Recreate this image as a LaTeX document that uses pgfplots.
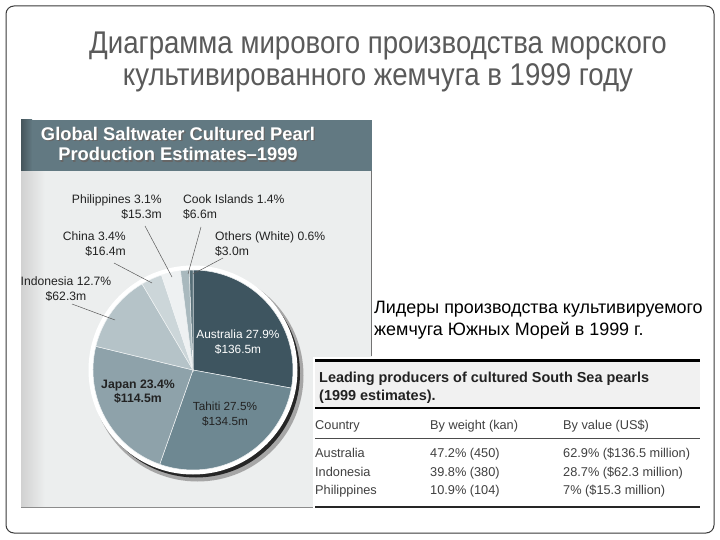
\documentclass[border=0pt]{standalone}
\usepackage{pgfplots}
\pgfplotsset{compat=1.18}
\usepackage{fontspec}
\setmainfont{Liberation Sans}
\newfontfamily\titlefont[FakeStretch=0.88]{Liberation Sans}

\definecolor{frame}{HTML}{3A3A3A}
\definecolor{titlegray}{HTML}{5A5A5A}
\definecolor{band}{HTML}{627982}
\definecolor{piebg}{HTML}{ECEEEE}
\definecolor{cAus}{HTML}{3E5560}
\definecolor{cTah}{HTML}{6E8892}
\definecolor{cJap}{HTML}{8EA2AA}
\definecolor{cIndo}{HTML}{B5C3C8}
\definecolor{cChina}{HTML}{CCD6D9}
\definecolor{cPhil}{HTML}{EEF1F2}
\definecolor{cCook}{HTML}{A9B9BE}
\definecolor{cOth}{HTML}{587079}
\definecolor{labtxt}{HTML}{222222}
\definecolor{tabtxt}{HTML}{404040}
\definecolor{tabband}{HTML}{F1F1F1}

% shares of the pie (percent)
\def\pAus{27.9}
\def\pTah{27.5}
\def\pJap{23.4}
\def\pIndo{12.7}
\def\pChina{3.4}
\def\pPhil{3.1}
\def\pCook{1.4}
\def\pOth{0.6}
\pgfmathsetmacro\aA{90}
\pgfmathsetmacro\aB{\aA-3.6*\pAus}
\pgfmathsetmacro\aC{\aB-3.6*\pTah}
\pgfmathsetmacro\aD{\aC-3.6*\pJap}
\pgfmathsetmacro\aE{\aD-3.6*\pIndo}
\pgfmathsetmacro\aF{\aE-3.6*\pChina}
\pgfmathsetmacro\aG{\aF-3.6*\pPhil}
\pgfmathsetmacro\aH{\aG-3.6*\pCook}
\pgfmathsetmacro\aI{\aH-3.6*\pOth}

\newcommand\sector[3]{%
  \fill[#3, draw=white!80!cIndo, line width=0.5bp] (axis cs:193,370) -- ++(#1:100bp)
    arc[start angle=#1, end angle=#2, radius=100bp] -- cycle;}

\begin{document}
\begin{tikzpicture}
\begin{axis}[scale only axis, width=720bp, height=540bp,
  xmin=0, xmax=720, ymin=0, ymax=540, y dir=reverse,
  axis lines=none, ticks=none, clip=false]
\addplot[draw=none] coordinates {(0,0) (720,540)};
% slide background and frame
\fill[white] (axis cs:0,0) rectangle (axis cs:720,540);
\draw[frame, line width=1bp, rounded corners=8bp] (axis cs:6,6) rectangle (axis cs:714,533);
% slide title
\node[titlegray, font=\titlefont\fontsize{31.5}{33}\selectfont, align=center] at (axis cs:378,62)
  {Диаграмма мирового производства морского\\культивированного жемчуга в 1999 году};

% ---------- pie picture ----------
\fill[piebg] (axis cs:21,120) rectangle (axis cs:372,507);
\shade[left color=black!18, right color=piebg] (axis cs:21,171) rectangle (axis cs:45,507);
\draw[black!45, line width=0.8bp] (axis cs:21,507) -- (axis cs:372,507);
\draw[black!55, line width=0.8bp] (axis cs:371,171) -- (axis cs:371,356);
\fill[band] (axis cs:21,120) rectangle (axis cs:372,171);
\shade[left color=band!70!black, right color=band] (axis cs:21,120) rectangle (axis cs:32,171);
\node[black!60, font=\bfseries\fontsize{18.4}{20.5}\selectfont, align=center] at (axis cs:179.3,145.3)
  {Global Saltwater Cultured Pearl\\Production Estimates–1999};
\node[white, font=\bfseries\fontsize{18.4}{20.5}\selectfont, align=center] at (axis cs:178,144)
  {Global Saltwater Cultured Pearl\\Production Estimates–1999};

% shadow and rim
\fill[black!35] (axis cs:197.5,375.5) circle (106bp);
\fill[black!85] (axis cs:196,373.5) circle (104bp);
\fill[white] (axis cs:193,370) circle (104.5bp);
% sectors
\sector{\aA}{\aB}{cAus}
\sector{\aB}{\aC}{cTah}
\sector{\aC}{\aD}{cJap}
\sector{\aD}{\aE}{cIndo}
\sector{\aE}{\aF}{cChina}
\sector{\aF}{\aG}{cPhil}
\sector{\aG}{\aH}{cCook}
\sector{\aH}{\aI}{cOth}

% leader lines
\draw[black!65, line width=0.5bp] (axis cs:145,226) -- (axis cs:172,277);
\draw[black!65, line width=0.5bp] (axis cs:201,227) -- (axis cs:188,274);
\draw[black!65, line width=0.5bp] (axis cs:223,258) -- (axis cs:193,274);
\draw[black!65, line width=0.5bp] (axis cs:114,263) -- (axis cs:152,283);
\draw[black!65, line width=0.5bp] (axis cs:72,304) -- (axis cs:115,320);

% outside labels
\begin{scope}[every node/.style={labtxt, font=\fontsize{12.2}{15}\selectfont, inner sep=0pt}]
\node[anchor=east, align=right] at (axis cs:162,207) {Philippines 3.1\%\\\$15.3m};
\node[anchor=west, align=left] at (axis cs:183,207) {Cook Islands 1.4\%\\\$6.6m};
\node[anchor=west, align=left] at (axis cs:215,244) {Others (White) 0.6\%\\\$3.0m};
\node[anchor=east, align=right] at (axis cs:126,244) {China 3.4\%\\\$16.4m};
\node[align=center] at (axis cs:66,289) {Indonesia 12.7\%\\\$62.3m};
\end{scope}
% inside labels
\node[white, font=\fontsize{11.9}{15}\selectfont, align=center, inner sep=0pt] at (axis cs:238,342) {Australia 27.9\%\\\$136.5m};
\node[labtxt, font=\bfseries\fontsize{12.3}{14}\selectfont, align=center, inner sep=0pt] at (axis cs:138,392) {Japan 23.4\%\\\$114.5m};
\node[labtxt, font=\fontsize{11.8}{15}\selectfont, align=center, inner sep=0pt] at (axis cs:225,414) {Tahiti 27.5\%\\\$134.5m};

% ---------- caption ----------
\node[black, anchor=west, align=left, font=\fontsize{18}{22.5}\selectfont, inner sep=0pt] at (axis cs:374,320)
  {Лидеры производства культивируемого\\жемчуга Южных Морей в 1999 г.};

% ---------- table picture ----------
\fill[white] (axis cs:313,357) rectangle (axis cs:702,508);
\fill[tabband] (axis cs:315,361) rectangle (axis cs:700,408);
\draw[black, line width=3bp] (axis cs:315,360) -- (axis cs:700,360);
\draw[black, line width=1.3bp] (axis cs:315,408) -- (axis cs:700,408);
\draw[black!70, line width=0.7bp] (axis cs:315,438) -- (axis cs:700,438);
\draw[black!85, line width=2bp] (axis cs:315,507) -- (axis cs:700,507);
\begin{scope}[every node/.style={labtxt, anchor=base west, font=\bfseries\fontsize{14.5}{17.5}\selectfont, inner sep=0pt}]
\node at (axis cs:319,382.5) {Leading producers of cultured South Sea pearls};
\node at (axis cs:319,400) {(1999 estimates).};
\end{scope}
\begin{scope}[every node/.style={tabtxt, anchor=base west, font=\fontsize{12.8}{14}\selectfont, inner sep=0pt}]
\node at (axis cs:315,429.5) {Country};
\node at (axis cs:430,429.5) {By weight (kan)};
\node at (axis cs:563,429.5) {By value (US\$)};
\node at (axis cs:315,457.5) {Australia};
\node at (axis cs:430,457.5) {47.2\% (450)};
\node at (axis cs:563,457.5) {62.9\% (\$136.5 million)};
\node at (axis cs:315,476) {Indonesia};
\node at (axis cs:430,476) {39.8\% (380)};
\node at (axis cs:563,476) {28.7\% (\$62.3 million)};
\node at (axis cs:315,494.5) {Philippines};
\node at (axis cs:430,494.5) {10.9\% (104)};
\node at (axis cs:563,494.5) {7\% (\$15.3 million)};
\end{scope}
\end{axis}
\end{tikzpicture}
\end{document}
